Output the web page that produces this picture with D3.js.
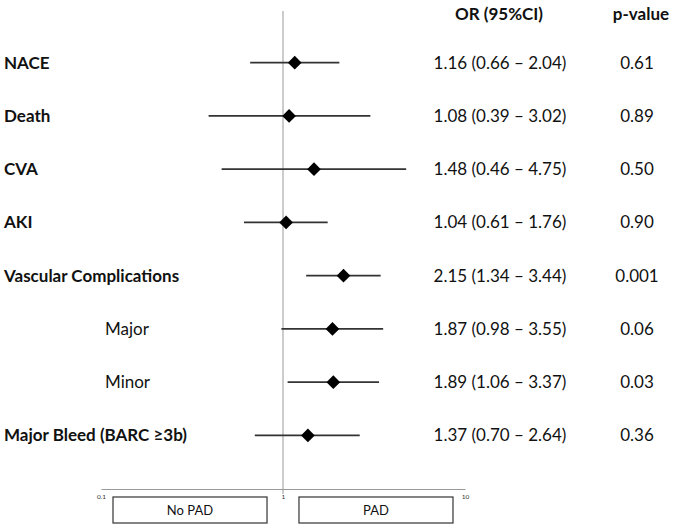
<!DOCTYPE html>
<html>
  <head>
    <script src="https://d3js.org/d3.v7.min.js"></script>
    <style>
      body { margin: 0; background: #fff; }
      text { font-family: "Lato", "Liberation Sans", sans-serif; fill: #111; }
    </style>
  </head>
  <body>
    <svg id="forest" width="673" height="528"></svg>
    <script>
      var labels = ["NACE", "Death", "CVA", "AKI", "Vascular Complications", "Major", "Minor", "Major Bleed (BARC \u22653b)"];
      var bold = [true, true, true, true, true, false, false, true];
      var or = [1.16, 1.08, 1.48, 1.04, 2.15, 1.87, 1.89, 1.37];
      var lower = [0.66, 0.39, 0.46, 0.61, 1.34, 0.98, 1.06, 0.70];
      var upper = [2.04, 3.02, 4.75, 1.76, 3.44, 3.55, 3.37, 2.64];
      var pvals = ["0.61", "0.89", "0.50", "0.90", "0.001", "0.06", "0.03", "0.36"];
      var ticks = [0.1, 1, 10];

      var svg = d3.select("#forest");
      var fs = 17;

      var x = d3.scaleLog().domain([0.1, 10]).range([101, 465]);
      var y = d3.scaleBand().domain(d3.range(labels.length)).range([36, 462]);

      var rows = labels.map(function (l, i) {
        return { label: l, bold: bold[i], or: or[i], lo: lower[i], hi: upper[i], p: pvals[i] };
      });

      // reference line at 1
      svg.append("line")
        .attr("x1", x(1)).attr("x2", x(1))
        .attr("y1", 11).attr("y2", 494)
        .attr("stroke", "#aaa").attr("stroke-width", 1.2);

      // axis
      var axis = svg.append("g")
        .attr("transform", "translate(0,489)")
        .call(d3.axisBottom(x).tickValues(ticks).tickSize(0).tickFormat(d3.format("")));
      axis.select(".domain").attr("stroke", "#999").attr("stroke-width", 1);
      axis.selectAll("text")
        .attr("dy", 7)
        .attr("font-size", 6.5)
        .style("fill", "#333");

      // boxes under the axis
      var boxes = [
        { name: "No PAD", a: 0.1164, b: 0.817 },
        { name: "PAD", a: 1.224, b: 8.59 }
      ];
      var bx = svg.selectAll(".box").data(boxes).enter().append("g");
      bx.append("rect")
        .attr("x", function (d) { return x(d.a); })
        .attr("width", function (d) { return x(d.b) - x(d.a); })
        .attr("y", 497).attr("height", 26)
        .attr("fill", "#fff").attr("stroke", "#333").attr("stroke-width", 1.2);
      bx.append("text")
        .attr("x", function (d) { return (x(d.a) + x(d.b)) / 2; })
        .attr("y", 515)
        .attr("text-anchor", "middle")
        .attr("font-size", 13)
        .text(function (d) { return d.name; });

      var cy = function (i) { return y(i) + y.bandwidth() / 2; };

      var g = svg.selectAll(".row").data(rows).enter().append("g");

      g.append("line")
        .attr("x1", function (d) { return x(d.lo); })
        .attr("x2", function (d) { return x(d.hi); })
        .attr("y1", function (d, i) { return cy(i); })
        .attr("y2", function (d, i) { return cy(i); })
        .attr("stroke", "#333").attr("stroke-width", 1.6);

      g.append("path")
        .attr("d", d3.symbol().type(d3.symbolDiamond2).size(120))
        .attr("transform", function (d, i) { return "translate(" + x(d.or) + "," + cy(i) + ")"; })
        .attr("fill", "#000");

      g.append("text")
        .attr("x", function (d) { return d.bold ? 4 : 105; })
        .attr("y", function (d, i) { return cy(i); })
        .attr("dy", "0.35em")
        .attr("font-size", fs)
        .attr("font-weight", function (d) { return d.bold ? "bold" : "normal"; })
        .text(function (d) { return d.label; });

      g.append("text")
        .attr("x", 500)
        .attr("y", function (d, i) { return cy(i); })
        .attr("dy", "0.35em")
        .attr("text-anchor", "middle")
        .attr("font-size", fs)
        .text(function (d) { return d.or.toFixed(2) + " (" + d.lo.toFixed(2) + " \u2013 " + d.hi.toFixed(2) + ")"; });

      g.append("text")
        .attr("x", 637)
        .attr("y", function (d, i) { return cy(i); })
        .attr("dy", "0.35em")
        .attr("text-anchor", "middle")
        .attr("font-size", fs)
        .text(function (d) { return d.p; });

      // column headers
      svg.append("text").attr("x", 499).attr("y", 14).attr("dy", "0.35em")
        .attr("text-anchor", "middle").attr("font-size", fs).attr("font-weight", "bold")
        .text("OR (95%CI)");
      svg.append("text").attr("x", 641).attr("y", 14).attr("dy", "0.35em")
        .attr("text-anchor", "middle").attr("font-size", fs).attr("font-weight", "bold")
        .text("p-value");
    </script>
  </body>
</html>
